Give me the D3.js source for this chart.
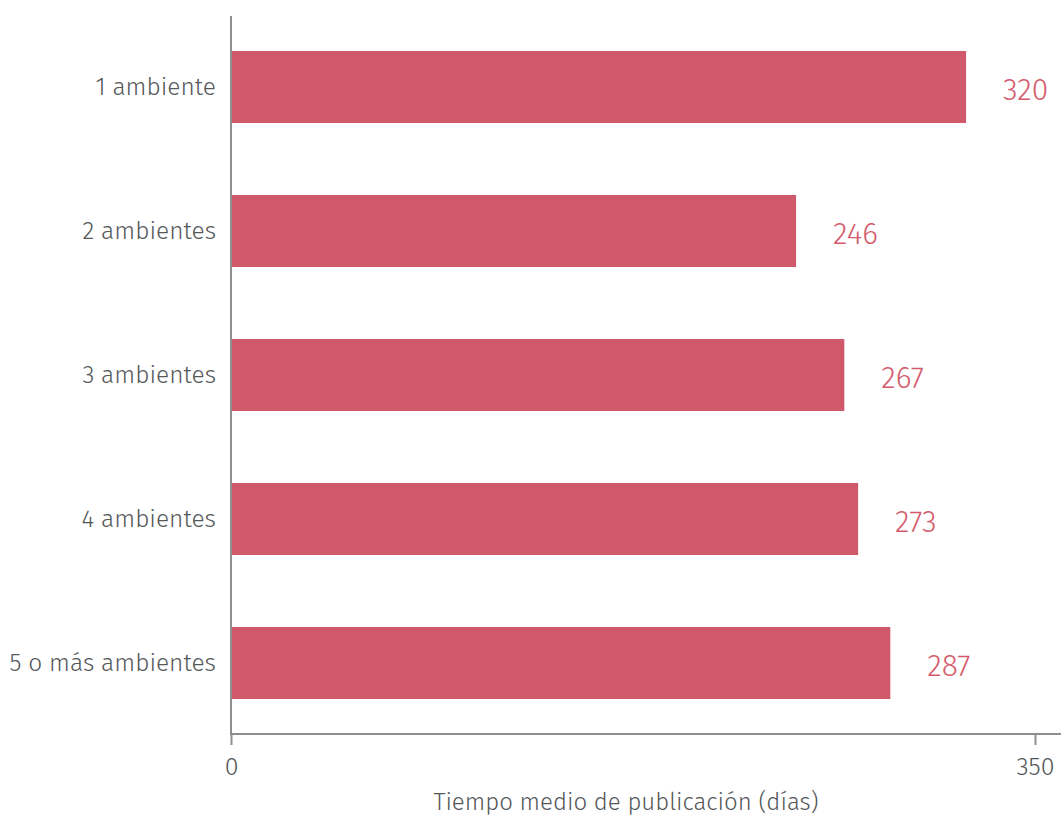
<!DOCTYPE html>
<html>
<head>
<meta charset="utf-8">
<script src="https://cdn.jsdelivr.net/npm/d3@7"></script>
<style>
body { margin: 0; background: #fff; }
svg { display: block; }
svg text { font-family: "Fira Sans", "Open Sans", sans-serif; font-weight: 300; }
</style>
</head>
<body>
<div id="chart"></div>
<script>
var categories = ['1 ambiente', '2 ambientes', '3 ambientes', '4 ambientes', '5 o más ambientes'];
var values = [320, 246, 267, 273, 287];
var xTicks = [0, 350];
var xTitle = 'Tiempo medio de publicación (días)';

var BAR_COLOR = '#d05a6c';
var LABEL_COLOR = '#d45a6c';
var AXIS_COLOR = '#8c8e91';
var TEXT_COLOR = '#555759';

var WIDTH = 1061, HEIGHT = 816;
var margin = { top: 15, left: 231, bottom: 81, right: 26 };

var sx = d3.scaleLinear()
    .domain([0, 350])
    .range([margin.left, WIDTH - margin.right]);
var sy = d3.scaleBand()
    .domain(categories)
    .range([margin.top, HEIGHT - margin.bottom])
    .paddingInner(0.5)
    .paddingOuter(0.25);

var svg = d3.select('#chart').append('svg')
    .attr('width', WIDTH)
    .attr('height', HEIGHT);

// bars
svg.selectAll('.bar')
    .data(values)
    .enter().append('rect')
    .attr('class', 'bar')
    .attr('x', sx(0))
    .attr('y', function(d, i) { return sy(categories[i]); })
    .attr('width', function(d) { return sx(d) - sx(0); })
    .attr('height', sy.bandwidth())
    .attr('fill', BAR_COLOR);

// value labels
svg.selectAll('.val')
    .data(values)
    .enter().append('text')
    .attr('class', 'val')
    .attr('x', function(d) { return sx(d) + 37; })
    .attr('y', function(d, i) { return sy(categories[i]) + sy.bandwidth() / 2 + 2; })
    .attr('dy', '0.35em')
    .attr('fill', LABEL_COLOR)
    .style('font-size', '30px')
    .text(function(d) { return d; });

// y axis
var ay = d3.axisLeft(sy).tickSize(0).tickPadding(15);
var gy = svg.append('g')
    .attr('transform', 'translate(' + sx(0) + ',0)')
    .call(ay);
gy.attr('font-family', null);
gy.select('.domain')
    .attr('d', 'M0,' + (margin.top + 1) + 'V' + (HEIGHT - margin.bottom))
    .attr('stroke', AXIS_COLOR)
    .attr('stroke-width', 2);
gy.selectAll('.tick text')
    .attr('fill', TEXT_COLOR)
    .style('font-size', '24.5px');

// x axis
var ax = d3.axisBottom(sx).tickValues(xTicks).tickSize(11).tickPadding(12);
var gx = svg.append('g')
    .attr('transform', 'translate(0,' + (HEIGHT - margin.bottom - 1) + ')')
    .call(ax);
gx.attr('font-family', null);
gx.select('.domain')
    .attr('d', 'M' + (margin.left - 1) + ',0H' + WIDTH)
    .attr('stroke', AXIS_COLOR)
    .attr('stroke-width', 2);
gx.selectAll('.tick line')
    .attr('stroke', AXIS_COLOR)
    .attr('stroke-width', 2);
gx.selectAll('.tick text')
    .attr('fill', TEXT_COLOR)
    .style('font-size', '25px');

svg.append('text')
    .attr('x', 626)
    .attr('y', 802)
    .attr('dy', '0.35em')
    .attr('text-anchor', 'middle')
    .attr('fill', TEXT_COLOR)
    .style('font-size', '24px')
    .text(xTitle);
</script>
</body>
</html>
